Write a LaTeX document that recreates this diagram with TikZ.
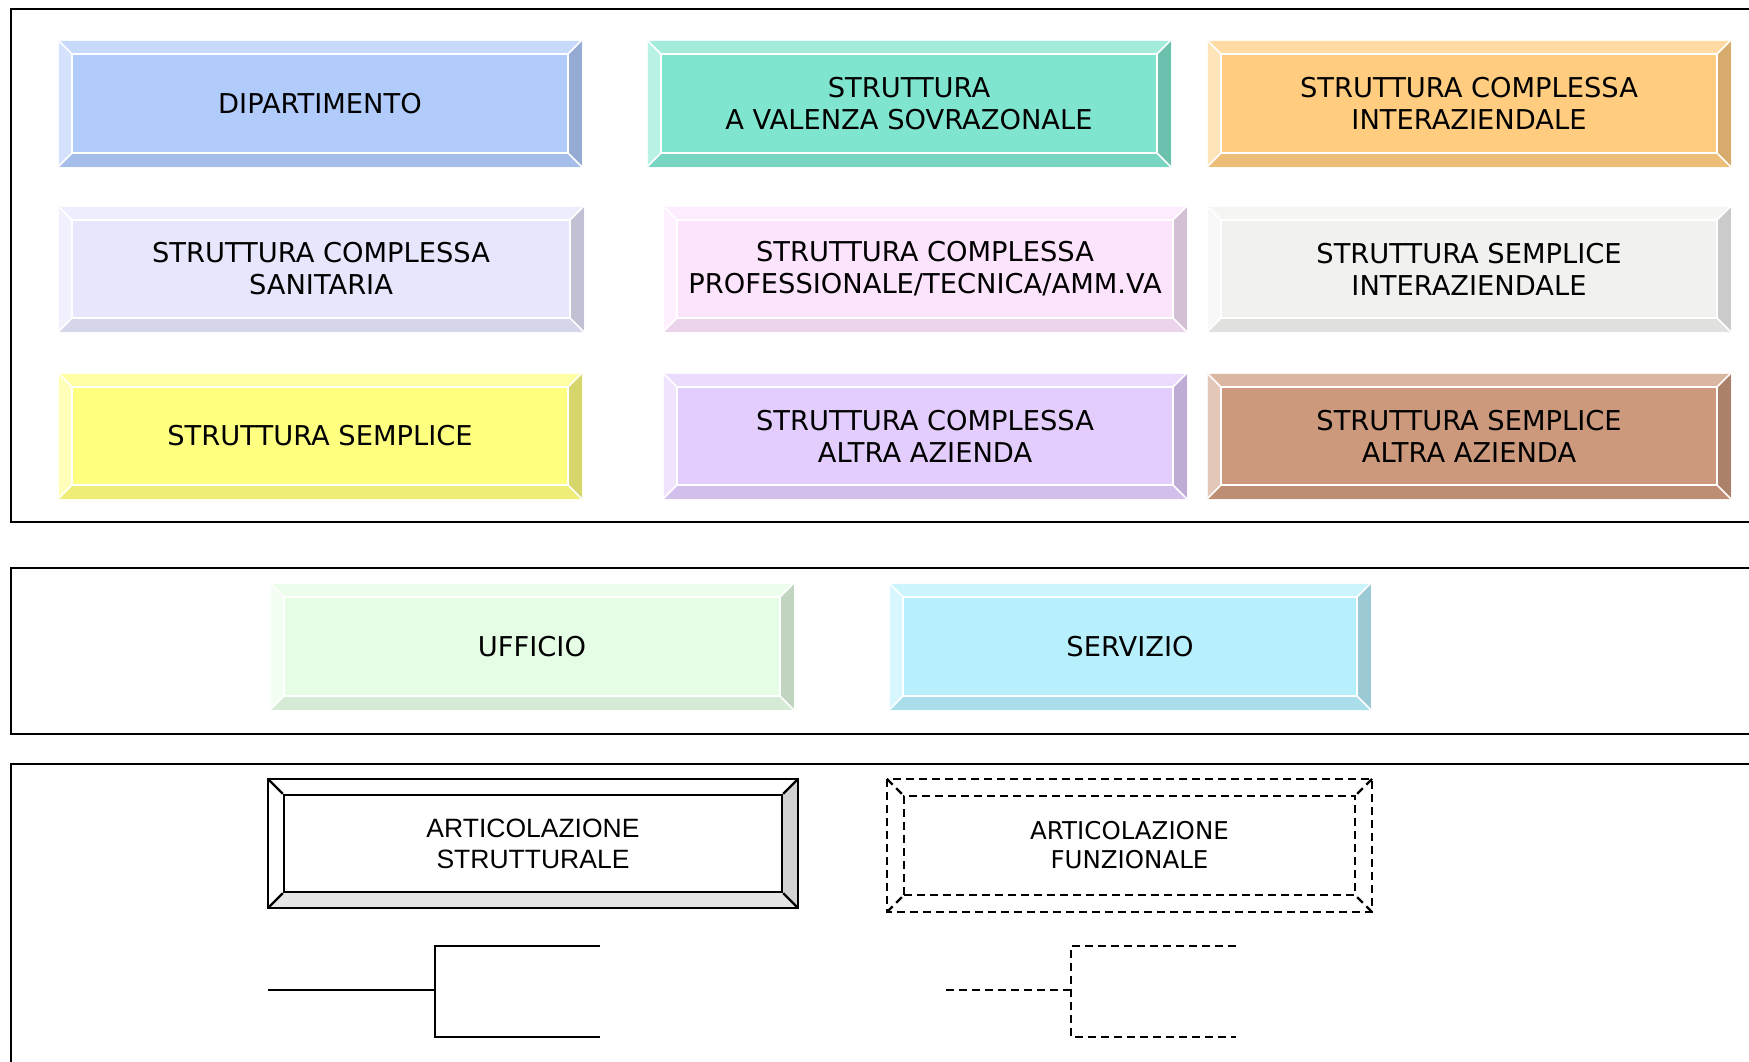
\documentclass[tikz,border=0pt]{standalone}
\usepackage{fontspec}
\setmainfont{DejaVu Sans}
\newfontfamily\arialf{Liberation Sans}
\usetikzlibrary{calc}
\definecolor{cDip}{HTML}{B1CBFB}
\definecolor{cVal}{HTML}{80E5CF}
\definecolor{cSCI}{HTML}{FFCC80}
\definecolor{cSan}{HTML}{E6E6FC}
\definecolor{cProf}{HTML}{FDE4FD}
\definecolor{cSSI}{HTML}{F1F2F0}
\definecolor{cSS}{HTML}{FFFF80}
\definecolor{cSCA}{HTML}{E3CDFD}
\definecolor{cSSA}{HTML}{CC997D}
\definecolor{cUff}{HTML}{E5FDE5}
\definecolor{cSer}{HTML}{B8EFFD}
\tikzset{
  face/.style={inner sep=0pt, align=center, font=\fontsize{27.3}{32}\selectfont, text=black},
  frame/.style={line width=2.2pt, black},
  whiteline/.style={white, line width=1.6pt},
  bkline/.style={black, line width=2.4pt},
}
\def\bv{14}
\newcommand\bevbox[7]{%
  \pgfmathsetmacro\bxa{#2}\pgfmathsetmacro\bya{#3}\pgfmathsetmacro\bxb{#4}\pgfmathsetmacro\byb{#5}%
  \fill[#6!72!white] (\bxa,\bya) -- (\bxb,\bya) -- (\bxb-\bv,\bya+\bv) -- (\bxa+\bv,\bya+\bv) -- cycle;
  \fill[#6!55!white] (\bxa,\bya) -- (\bxa+\bv,\bya+\bv) -- (\bxa+\bv,\byb-\bv) -- (\bxa,\byb) -- cycle;
  \fill[#6!84!black] (\bxb,\bya) -- (\bxb,\byb) -- (\bxb-\bv,\byb-\bv) -- (\bxb-\bv,\bya+\bv) -- cycle;
  \fill[#6!93!black] (\bxa,\byb) -- (\bxb,\byb) -- (\bxb-\bv,\byb-\bv) -- (\bxa+\bv,\byb-\bv) -- cycle;
  \node[face, fill=#6, draw=white, line width=1.6pt, minimum width={\bxb-\bxa-2*\bv}, minimum height={\byb-\bya-2*\bv}] (#1) at ({(\bxa+\bxb)/2},{(\bya+\byb)/2}) {#7};
  \draw[whiteline] (\bxa,\bya) -- (#1.north west) (\bxb,\bya) -- (#1.north east)
    (\bxa,\byb) -- (#1.south west) (\bxb,\byb) -- (#1.south east);
  \draw[white!90!#6, line width=0.8pt] (\bxa,\bya) rectangle (\bxb,\byb);
}
\begin{document}
\begin{tikzpicture}[x=1pt,y=-1pt]
\useasboundingbox (0,0) rectangle (1749,1061);
\fill[white] (0,0) rectangle (1749,1061);
% frames
\draw[frame] (1760,9) -- (11,9) -- (11,522) -- (1760,522);
\draw[frame] (1760,568) -- (11,568) -- (11,734) -- (1760,734);
\draw[frame] (1760,764) -- (11,764) -- (11,1070);
% row 1
\bevbox{dip}{58}{40}{582}{167}{cDip}{DIPARTIMENTO}
\bevbox{val}{647}{40}{1171}{167}{cVal}{STRUTTURA\\A VALENZA SOVRAZONALE}
\bevbox{sci}{1207}{40}{1731}{167}{cSCI}{STRUTTURA COMPLESSA\\INTERAZIENDALE}
% row 2
\bevbox{san}{58}{206}{584}{332}{cSan}{STRUTTURA COMPLESSA\\SANITARIA}
\bevbox{prof}{663}{206}{1187}{332}{cProf}{STRUTTURA COMPLESSA\\PROFESSIONALE/TECNICA/AMM.VA}
\bevbox{ssi}{1207}{206}{1731}{332}{cSSI}{STRUTTURA SEMPLICE\\INTERAZIENDALE}
% row 3
\bevbox{ss}{58}{373}{582}{499}{cSS}{STRUTTURA SEMPLICE}
\bevbox{sca}{663}{373}{1187}{499}{cSCA}{STRUTTURA COMPLESSA\\ALTRA AZIENDA}
\bevbox{ssa}{1207}{373}{1731}{499}{cSSA}{STRUTTURA SEMPLICE\\ALTRA AZIENDA}
% row 4
\bevbox{uff}{270}{583}{794}{710}{cUff}{UFFICIO}
\bevbox{ser}{889}{583}{1371}{710}{cSer}{SERVIZIO}
% articolazione strutturale
\fill[white] (268,779) -- (798,779) -- (782,795) -- (284,795) -- cycle;
\fill[gray!35] (798,779) -- (798,908) -- (782,892) -- (782,795) -- cycle;
\fill[gray!20] (268,908) -- (798,908) -- (782,892) -- (284,892) -- cycle;
\draw[bkline] (268,779) rectangle (798,908);
\node[bkline, draw, fill=white, inner sep=0pt, align=center, minimum width=498pt, minimum height=97pt,
  font=\arialf\fontsize{26.5}{31}\selectfont] (astr) at (533,843.5) {ARTICOLAZIONE\\STRUTTURALE};
\draw[bkline] (268,779) -- (astr.north west) (798,779) -- (astr.north east)
  (268,908) -- (astr.south west) (798,908) -- (astr.south east);
% articolazione funzionale
\draw[bkline, dash pattern=on 8pt off 5pt] (887,779) rectangle (1372,912);
\node[bkline, draw, dash pattern=on 8pt off 5pt, inner sep=0pt, align=center, minimum width=451pt, minimum height=99pt,
  font=\fontsize{24.5}{29}\selectfont] (afun) at (1129.5,845.5) {ARTICOLAZIONE\\FUNZIONALE};
\draw[bkline, dash pattern=on 8pt off 5pt] (887,779) -- (afun.north west) (1372,779) -- (afun.north east)
  (887,912) -- (afun.south west) (1372,912) -- (afun.south east);
% solid bracket
\coordinate (sa) at (268,990);
\coordinate (sj) at (435,990);
\coordinate (st) at (600,946);
\coordinate (sb) at (600,1037);
\draw[bkline] (sa) -- (sj);
\draw[bkline] (st) -| (sj) |- (sb);
% dashed bracket
\coordinate (da) at (946,990);
\coordinate (dj) at (1071,990);
\coordinate (dt) at (1236,946);
\coordinate (db) at (1236,1037);
\draw[bkline, dash pattern=on 8pt off 5pt] (da) -- (dj);
\draw[bkline, dash pattern=on 8pt off 5pt] (dt) -| (dj) |- (db);
\end{tikzpicture}
\end{document}
